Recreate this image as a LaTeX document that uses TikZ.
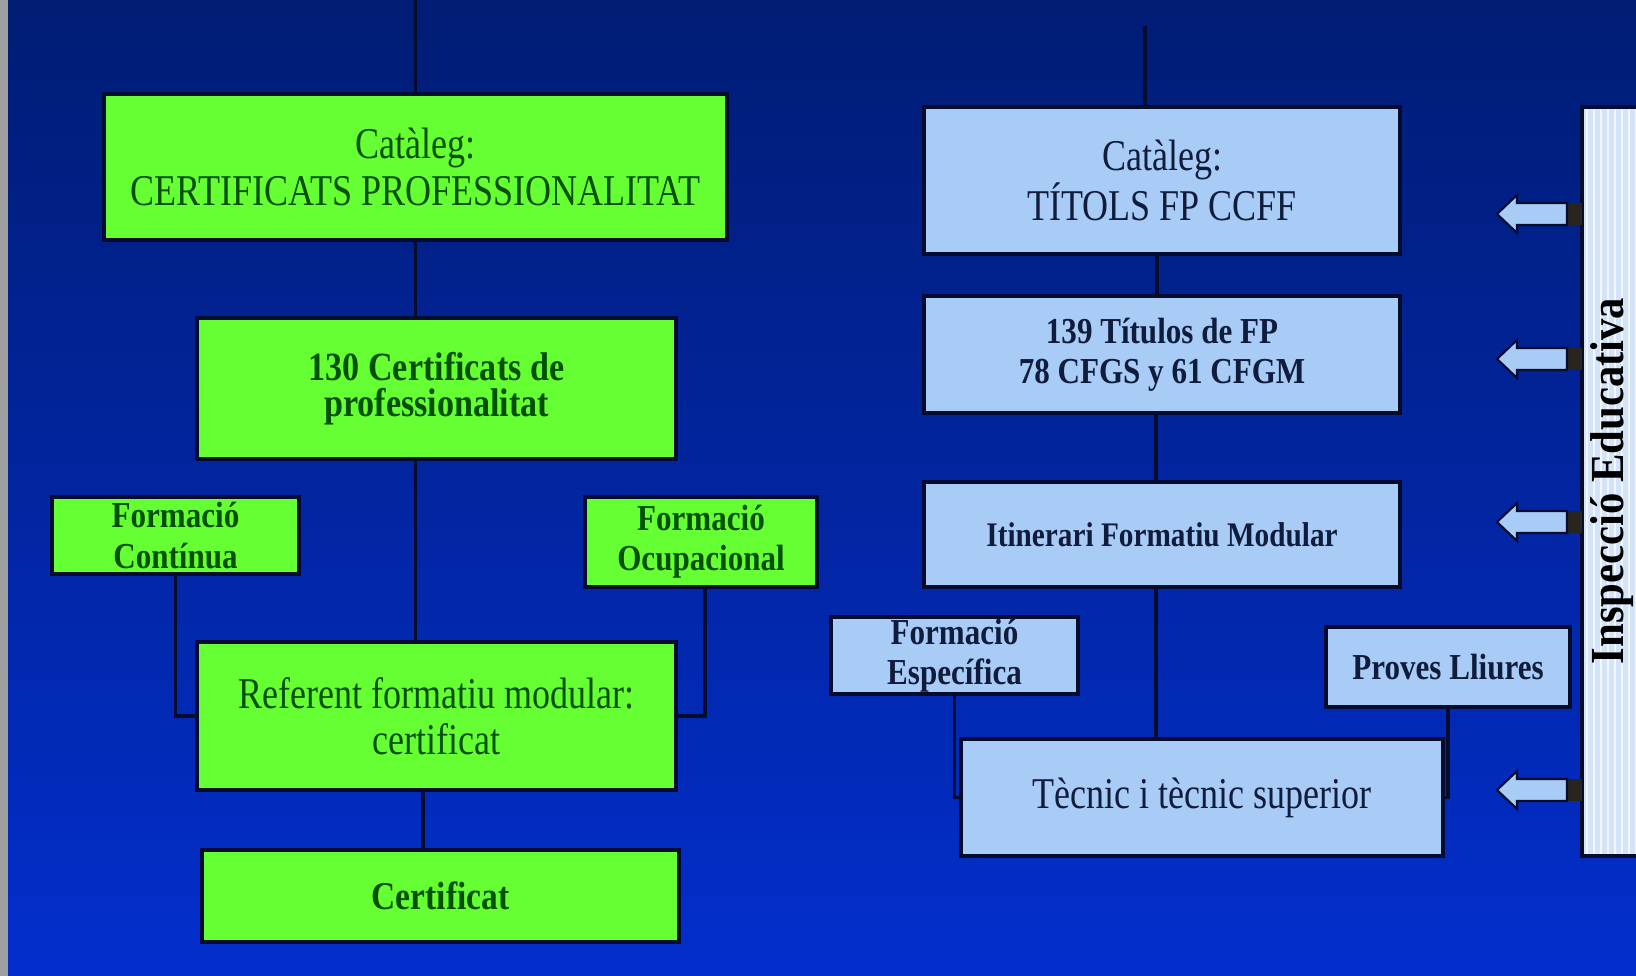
\documentclass[tikz,border=0pt]{standalone}
\usepackage{fontspec}
\setmainfont{Liberation Serif}
\newfontfamily\regf[FakeStretch=0.82]{Liberation Serif}
\newfontfamily\boldf[FakeStretch=0.85]{Liberation Serif}
\newfontfamily\inspf[FakeStretch=0.9]{Liberation Serif}
\usepackage{tikz}
\usetikzlibrary{arrows}

\definecolor{bgtop}{RGB}{0,28,115}
\definecolor{bgmid}{RGB}{2,44,180}
\definecolor{bgbot}{RGB}{3,46,205}
\definecolor{lgreen}{RGB}{102,255,51}
\definecolor{dgreen}{RGB}{0,80,0}
\definecolor{lblue}{RGB}{168,204,246}
\definecolor{dnavy}{RGB}{16,28,60}
\definecolor{linec}{RGB}{5,12,45}
\definecolor{barc}{RGB}{212,228,248}
\definecolor{tailc}{RGB}{40,36,30}

\tikzset{
  gbox/.style={draw=linec, fill=lgreen, line width=0.9pt, text=dgreen, align=center, inner sep=0pt},
  bbox/.style={draw=linec, fill=lblue, line width=0.9pt, text=dnavy, align=center, inner sep=0pt},
  reg/.style={font=\regf\fontsize{12.5}{13.2}\selectfont},
  bld/.style={font=\boldf\bfseries\fontsize{10.4}{11.4}\selectfont},
  conn/.style={draw=linec, line width=1.1pt},
}

\begin{document}
\begin{tikzpicture}[x=0.1mm, y=-0.1mm]
		% fons
		\useasboundingbox (0,0) rectangle (1636,976);
		\shade [top color=bgtop, middle color=bgmid, bottom color=bgbot] (0,0) rectangle (1636,976);
		\fill [gray!75] (0,0) rectangle (8,976);
		% caixes esquerra
		\node [gbox, reg, minimum width=62.3mm, minimum height=14.6mm] (cat1) at (415.5,167) {Catàleg:\\CERTIFICATS PROFESSIONALITAT};
		\node [gbox, bld, font=\boldf\bfseries\fontsize{11.4}{10.4}\selectfont, minimum width=47.9mm, minimum height=14.1mm] (c130) at (436.5,388.5) {130 Certificats de\\professionalitat};
		\node [gbox, bld, minimum width=24.7mm, minimum height=7.7mm] (cont) at (175.5,535.5) {Formació\\Contínua};
		\node [gbox, bld, minimum width=23.2mm, minimum height=9mm] (ocup) at (701,542) {Formació\\Ocupacional};
		\node [gbox, reg, minimum width=47.9mm, minimum height=14.8mm] (ref) at (436.5,716) {Referent formatiu modular:\\certificat};
		\node [gbox, bld, font=\boldf\bfseries\fontsize{11.2}{12}\selectfont, minimum width=47.7mm, minimum height=9.2mm] (cert) at (440.5,896) {Certificat};
		% caixes dreta
		\node [bbox, reg, minimum width=47.6mm, minimum height=14.7mm] (cat2) at (1162,180.5) {Catàleg:\\TÍTOLS FP CCFF};
		\node [bbox, bld, minimum width=47.6mm, minimum height=11.7mm] (t139) at (1162,354.5) {139 Títulos de FP\\78 CFGS y 61 CFGM};
		\node [bbox, bld, font=\boldf\bfseries\fontsize{9.8}{11}\selectfont, minimum width=47.6mm, minimum height=10.5mm] (itin) at (1162,534.5) {Itinerari Formatiu Modular};
		\node [bbox, bld, minimum width=24.7mm, minimum height=7.7mm] (esp) at (954.5,655.5) {Formació\\Específica};
		\node [bbox, bld, minimum width=24.4mm, minimum height=8mm] (prov) at (1448,667) {Proves Lliures};
		\node [bbox, reg, minimum width=48.2mm, minimum height=11.7mm] (tec) at (1202,797.5) {Tècnic i tècnic superior};
		% barra inspeccio
		\fill [barc] (1582,107) rectangle (1645,856);
		\foreach \x in {1587,1594,...,1636}
			\draw [white!70!barc, line width=0.8pt] (\x,107) -- (\x,856);
		\draw [linec, line width=0.9pt] (1645,107) -- (1582,107) -- (1582,856) -- (1645,856);
		\node [rotate=90, anchor=base, font=\inspf\bfseries\fontsize{13.5}{14}\selectfont] (insp) at (1623,481) {Inspecció Educativa};
		% fletxes
		\foreach \y in {214,359,522,790} {
			\fill [tailc] (1566,\y-11) rectangle (1582,\y+11);
			\draw [fill=lblue, draw=linec, line width=0.6pt] (1497,\y) -- (1517,\y-19) -- (1517,\y-11) -- (1567,\y-11) -- (1567,\y+11) -- (1517,\y+11) -- (1517,\y+19) -- cycle;
		}
		% linies
		\coordinate (ltop) at (415.5,0);
		\coordinate (rtop) at (1145,26);
		\draw [conn] (ltop) -- (cat1.north);
		\draw [conn] (cat1.south) -- (cat1.south |- c130.north);
		\draw [conn] (cat1.south |- c130.south) -- (cat1.south |- ref.north);
		\draw [conn] ([xshift=-1.35mm]ref.south) -- ([xshift=-1.35mm]ref.south |- cert.north);
		\draw [conn] (cont.south) |- (ref.west);
		\draw [conn] ([xshift=0.4mm]ocup.south) |- (ref.east);
		\draw [conn] (rtop) -- (rtop |- cat2.north);
		\draw [conn] ([xshift=-0.5mm]cat2.south) -- ([xshift=-0.5mm]cat2.south |- t139.north);
		\draw [conn] ([xshift=-0.6mm]t139.south) -- ([xshift=-0.6mm]t139.south |- itin.north);
		\draw [conn] ([xshift=-0.6mm]itin.south) -- ([xshift=-0.6mm]itin.south |- tec.north);
		\draw [conn] (esp.south) |- (tec.west);
		\draw [conn] (prov.south) |- (tec.east);
\end{tikzpicture}
\end{document}
